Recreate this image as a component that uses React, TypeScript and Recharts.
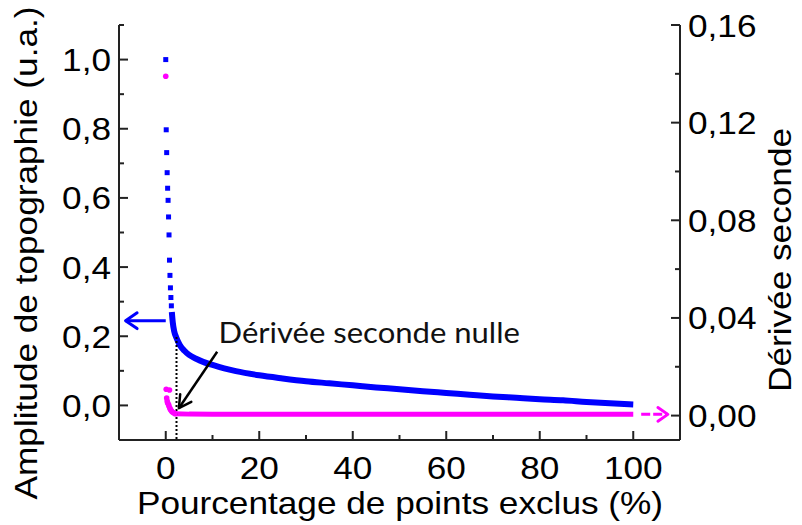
import { ComposedChart, Line, Scatter, XAxis, YAxis, ReferenceLine, ReferenceDot } from "recharts"

// blue: topography amplitude (left axis), sparse points at the start then a dense curve
const blueDotX = [0, 0.1, 0.2, 0.3, 0.4, 0.5, 0.6, 0.7, 0.8, 0.9, 1.0, 1.1, 1.2]
const blueDotY = [1.0, 0.797, 0.731, 0.673, 0.628, 0.593, 0.545, 0.493, 0.42, 0.376, 0.34, 0.312, 0.288]
const blueCurveX = [1.3, 1.5, 1.8, 2.3, 3, 4, 5, 6.5, 8, 10, 12.5, 15, 20, 25, 30, 35, 40, 45, 50, 55, 60, 65, 70, 75, 80, 85, 90, 95, 100]
const blueCurveY = [0.27, 0.24, 0.215, 0.195, 0.175, 0.158, 0.146, 0.135, 0.126, 0.117, 0.107, 0.099, 0.087, 0.078, 0.07, 0.064, 0.058, 0.052, 0.047, 0.041, 0.036, 0.031, 0.026, 0.022, 0.018, 0.015, 0.01, 0.006, 0.003]

// magenta: second derivative (right axis)
const pinkDotX = [0, 0.1, 0.8, 0.2, 0.3, 0.4, 0.6, 0.7, 0.9, 1.0, 1.2, 1.4, 1.7, 2.0]
const pinkDotY = [0.139, 0.0108, 0.0105, 0.0072, 0.006, 0.0052, 0.0045, 0.0038, 0.003, 0.0025, 0.002, 0.0015, 0.0011, 0.0008]
const pinkLineX = [2, 5, 10, 20, 40, 60, 80, 100]
const pinkLineY = [0.0008, 0.0006, 0.0005, 0.0005, 0.0005, 0.0005, 0.0005, 0.0005]

const xTicks = [0, 10, 20, 30, 40, 50, 60, 70, 80, 90, 100]
const leftTicks = [0, 0.1, 0.2, 0.3, 0.4, 0.5, 0.6, 0.7, 0.8, 0.9, 1.0, 1.1]
const rightTicks = [0, 0.02, 0.04, 0.06, 0.08, 0.1, 0.12, 0.14, 0.16]

const xTitle = "Pourcentage de points exclus (%)"
const leftTitle = "Amplitude de topographie (u.a.)"
const rightTitle = "Dérivée seconde"
const noteText = "Dérivée seconde nulle"

// annotation anchors, in data units
const leftArrow = { from: { x: 0, y: 0.245 }, to: { x: -8.6, y: 0.245 } }
const rightArrow = { from: { x: 101.7, y: 0.0005 }, to: { x: 107.4, y: 0.0005 } }
const noteArrow = { from: { x: 11.0, y: 0.155 }, to: { x: 2.8, y: -0.008 } }
const zeroX = 2.3
const zeroTop = 0.198
const notePos = { x: 11.3, y: 0.18 }

const blueDots = blueDotX.map((x, i) => ({ x, y: blueDotY[i] }))
const blueCurve = blueCurveX.map((x, i) => ({ x, y: blueCurveY[i] }))
const pinkDots = pinkDotX.map((x, i) => ({ x, y: pinkDotY[i] }))
const pinkLine = pinkLineX.map((x, i) => ({ x, y: pinkLineY[i] }))

const FONT = "'Liberation Sans', Arial, sans-serif"
const AXIS = "#222"
const SX = 1.1

function XTick({ x, y, payload }: any) {
  const v = payload.value
  const major = v % 20 === 0
  return (
    <g>
      <line x1={x} x2={x} y1={y} y2={y - (major ? 9 : 5)} stroke={AXIS} strokeWidth={2} />
      {major && (
        <text transform={`translate(${x},${y + 39}) scale(${SX},1)`} textAnchor="middle" fontFamily={FONT} fontSize={32} fill="#000">
          {v}
        </text>
      )}
    </g>
  )
}

function LeftTick({ x, y, payload }: any) {
  const v = payload.value
  const major = Math.round(v * 10) % 2 === 0
  return (
    <g>
      <line x1={x} x2={x + (major ? 9 : 5)} y1={y} y2={y} stroke={AXIS} strokeWidth={2} />
      {major && (
        <text transform={`translate(${x - 8},${y + 11.5}) scale(${SX},1)`} textAnchor="end" fontFamily={FONT} fontSize={32} fill="#000">
          {v.toFixed(1).replace(".", ",")}
        </text>
      )}
    </g>
  )
}

function RightTick({ x, y, payload }: any) {
  const v = payload.value
  const major = Math.round(v * 100) % 4 === 0
  return (
    <g>
      <line x1={x} x2={x - (major ? 9 : 5)} y1={y} y2={y} stroke={AXIS} strokeWidth={2} />
      {major && (
        <text transform={`translate(${x + 8},${y + 11.5}) scale(${SX},1)`} textAnchor="start" fontFamily={FONT} fontSize={32} fill="#000">
          {v.toFixed(2).replace(".", ",")}
        </text>
      )}
    </g>
  )
}

function arrow(color: string, width: number, head: number, spread: number, dash?: string) {
  return (p: any) => {
    const { x1, y1, x2, y2 } = p
    if (x1 == null || x2 == null) return <g />
    const a = Math.atan2(y2 - y1, x2 - x1)
    const ax = x2 - head * Math.cos(a - spread)
    const ay = y2 - head * Math.sin(a - spread)
    const bx = x2 - head * Math.cos(a + spread)
    const by = y2 - head * Math.sin(a + spread)
    return (
      <g>
        <line x1={x1} y1={y1} x2={x2} y2={y2} stroke={color} strokeWidth={width} strokeDasharray={dash} />
        <polyline points={`${ax},${ay} ${x2},${y2} ${bx},${by}`} fill="none" stroke={color} strokeWidth={width} strokeLinecap="round" strokeLinejoin="round" />
      </g>
    )
  }
}

const square = (p: any) => <rect x={p.cx - 2.5} y={p.cy - 2.5} width={5} height={5} fill="#0000ff" />
const circle = (p: any) => <circle cx={p.cx} cy={p.cy} r={2.8} fill="#ff00ff" />

export default function App() {
  return (
    <div style={{ width: 794, height: 517 }}>
      <ComposedChart width={794} height={517} margin={{ top: 17, right: 0, bottom: 0, left: 0 }}>
        <XAxis
          type="number"
          dataKey="x"
          domain={[-10, 110]}
          allowDataOverflow
          ticks={xTicks}
          interval={0}
          tickSize={0}
          tickMargin={0}
          tickLine={false}
          tick={(p: any) => <XTick {...p} />}
          axisLine={{ stroke: AXIS, strokeWidth: 2 }}
          height={85}
        />
        <YAxis
          yAxisId="left"
          type="number"
          domain={[-0.1, 1.1]}
          allowDataOverflow
          ticks={leftTicks}
          interval={0}
          tickSize={0}
          tickMargin={0}
          tickLine={false}
          tick={(p: any) => <LeftTick {...p} />}
          axisLine={{ stroke: AXIS, strokeWidth: 2 }}
          width={111}
        />
        <YAxis
          yAxisId="right"
          orientation="right"
          type="number"
          domain={[-0.01, 0.16]}
          allowDataOverflow
          ticks={rightTicks}
          interval={0}
          tickSize={0}
          tickMargin={0}
          tickLine={false}
          tick={(p: any) => <RightTick {...p} />}
          axisLine={{ stroke: AXIS, strokeWidth: 2 }}
          width={122}
        />

        <Line yAxisId="left" data={blueCurve} dataKey="y" type="monotone" stroke="#0000ff" strokeWidth={6} dot={false} isAnimationActive={false} />
        <Scatter yAxisId="left" data={blueDots} dataKey="y" shape={square} isAnimationActive={false} />
        <Line yAxisId="right" data={pinkLine} dataKey="y" type="linear" stroke="#ff00ff" strokeWidth={5} dot={false} isAnimationActive={false} />
        <Scatter yAxisId="right" data={pinkDots} dataKey="y" shape={circle} isAnimationActive={false} />

        <ReferenceLine
          yAxisId="left"
          segment={[{ x: zeroX, y: zeroTop }, { x: zeroX, y: -0.1 }]}
          stroke="#000"
          strokeWidth={2}
          strokeDasharray="2 2"
          ifOverflow="visible"
        />
        <ReferenceLine yAxisId="left" segment={[leftArrow.from, leftArrow.to]} ifOverflow="visible" shape={arrow("#0000ff", 3, 14, 0.6)} />
        <ReferenceLine yAxisId="right" segment={[rightArrow.from, rightArrow.to]} ifOverflow="visible" shape={arrow("#ff00ff", 3, 12, 0.6, "9 3")} />
        <ReferenceLine yAxisId="left" segment={[noteArrow.from, noteArrow.to]} ifOverflow="visible" shape={arrow("#000", 2.5, 14, 0.5)} />
        <ReferenceDot
          yAxisId="left"
          x={notePos.x}
          y={notePos.y}
          r={0}
          ifOverflow="visible"
          shape={(p: any) => (
            <text transform={`translate(${p.cx},${p.cy}) scale(1.07,1)`} fontFamily="Lato, 'Open Sans', sans-serif" fontSize={29} fill="#111">
              {noteText}
            </text>
          )}
        />

        <text transform={`translate(392,506) scale(${SX},1)`} textAnchor="middle" fontFamily={FONT} fontSize={32} fill="#000">
          {xTitle}
        </text>
        <text transform={`translate(29,245) rotate(-90) scale(${SX},1)`} textAnchor="middle" fontFamily={FONT} fontSize={32} fill="#000">
          {leftTitle}
        </text>
        <text transform={`translate(783,252) rotate(-90) scale(${SX},1)`} textAnchor="middle" fontFamily={FONT} fontSize={32} fill="#000">
          {rightTitle}
        </text>
      </ComposedChart>
    </div>
  )
}
